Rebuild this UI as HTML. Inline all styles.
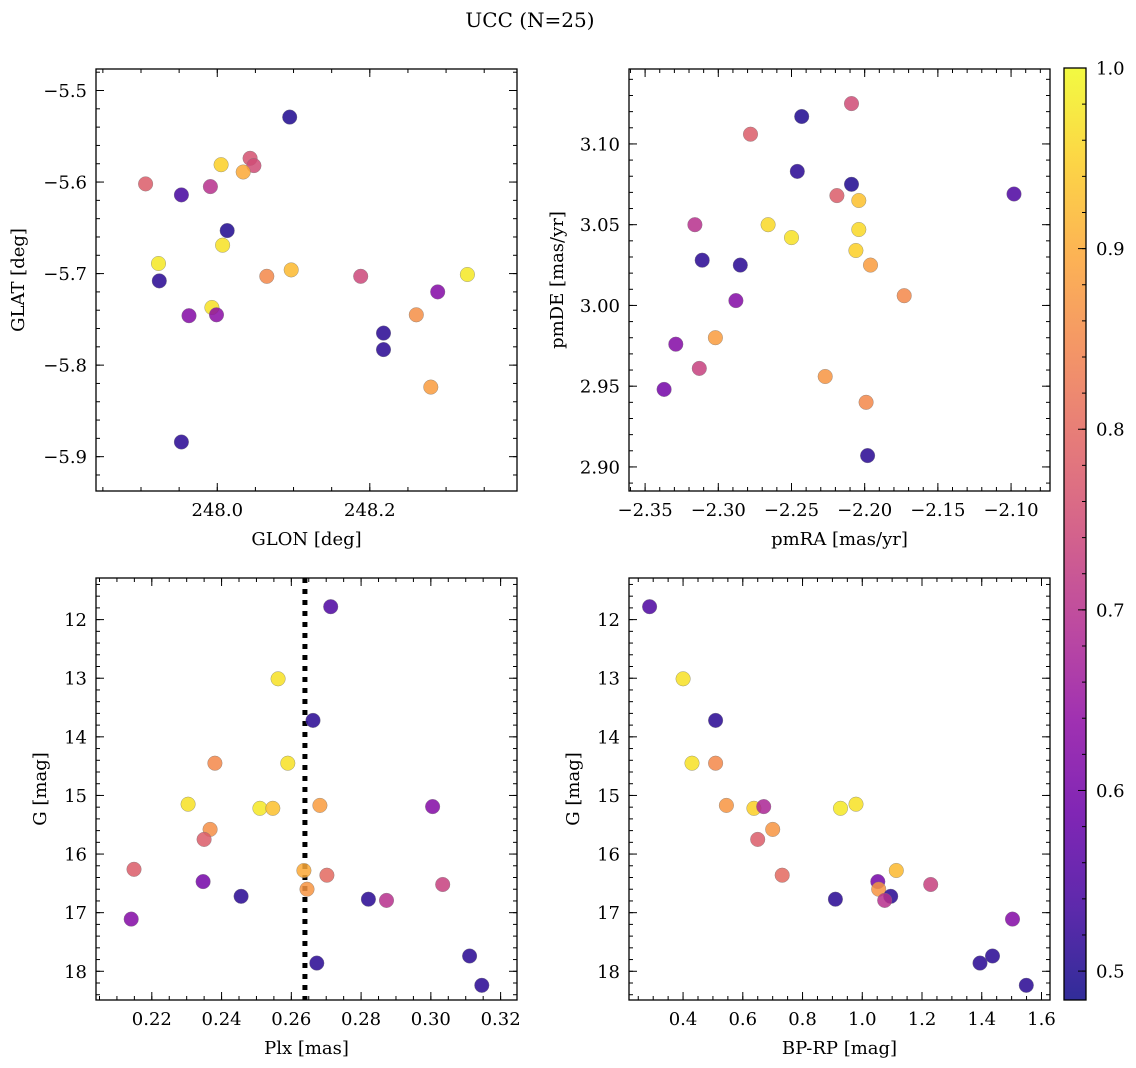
<!DOCTYPE html>
<html><head><meta charset="utf-8">
<style>
html,body{margin:0;padding:0;background:#fff;}
svg{display:block;font-family:"DejaVu Serif","Liberation Serif",serif;}
</style></head>
<body>
<svg id="fig" width="1136" height="1068" viewBox="0 0 1136 1068" xmlns="http://www.w3.org/2000/svg">
<text x="530" y="27" font-size="20" text-anchor="middle">UCC (N=25)</text>
</svg>
<script>
// ---- data ----
const tlGlon=[247.906,247.953,247.991,248.005,248.043,248.048,248.034,248.095,248.013,248.007,247.923,247.924,248.065,248.097,248.188,248.328,247.993,247.963,247.999,248.289,248.261,248.218,248.218,248.280,247.953];
const tlGlat=[-5.602,-5.614,-5.605,-5.581,-5.574,-5.582,-5.589,-5.529,-5.653,-5.669,-5.689,-5.708,-5.703,-5.696,-5.703,-5.701,-5.737,-5.746,-5.745,-5.720,-5.745,-5.765,-5.783,-5.824,-5.884];
const tlProb=[0.78,0.54,0.70,0.95,0.76,0.75,0.90,0.50,0.50,0.97,0.98,0.51,0.85,0.92,0.74,0.98,0.97,0.62,0.63,0.62,0.86,0.51,0.51,0.88,0.51];

const trPmra=[-2.209,-2.243,-2.278,-2.246,-2.209,-2.219,-2.204,-2.098,-2.316,-2.266,-2.204,-2.250,-2.206,-2.196,-2.311,-2.285,-2.173,-2.288,-2.302,-2.329,-2.313,-2.337,-2.227,-2.199,-2.198];
const trPmde=[3.125,3.117,3.106,3.083,3.075,3.068,3.065,3.069,3.050,3.050,3.047,3.042,3.034,3.025,3.028,3.025,3.006,3.003,2.980,2.976,2.961,2.948,2.956,2.940,2.907];
const trProb=[0.75,0.50,0.78,0.51,0.50,0.78,0.93,0.55,0.70,0.96,0.96,0.97,0.95,0.88,0.51,0.51,0.85,0.62,0.88,0.62,0.73,0.60,0.87,0.85,0.51];

const blPlx=[0.2713,0.2562,0.2662,0.2381,0.2590,0.2304,0.2510,0.2547,0.2682,0.3005,0.2367,0.2350,0.2149,0.2636,0.2702,0.2645,0.2347,0.3034,0.2456,0.2821,0.2873,0.2141,0.2673,0.3111,0.3146];
const blG=[11.78,13.01,13.72,14.45,14.45,15.15,15.22,15.22,15.17,15.19,15.58,15.75,16.26,16.28,16.36,16.60,16.47,16.52,16.72,16.77,16.79,17.11,17.86,17.74,18.24];
const blProb=[0.55,0.97,0.51,0.85,0.97,0.97,0.98,0.93,0.88,0.62,0.86,0.78,0.78,0.90,0.80,0.87,0.60,0.73,0.51,0.51,0.70,0.62,0.51,0.51,0.51];
const plxLine=[0.2639];

const brBprp=[0.288,0.400,0.509,0.430,0.509,0.545,0.637,0.670,0.927,0.979,0.700,0.650,0.732,1.114,1.052,1.055,1.229,1.095,1.075,0.910,1.503,1.394,1.436,1.549];
const brG=[11.78,13.01,13.72,14.45,14.45,15.17,15.22,15.19,15.22,15.15,15.58,15.75,16.36,16.28,16.47,16.60,16.52,16.72,16.79,16.77,17.11,17.86,17.74,18.24];
const brProb=[0.55,0.97,0.51,0.97,0.85,0.87,0.95,0.68,0.98,0.97,0.87,0.78,0.80,0.92,0.60,0.87,0.73,0.51,0.70,0.51,0.62,0.51,0.51,0.51];

const tlXTicks=["248.0","248.2"], tlYTicks=["−5.5","−5.6","−5.7","−5.8","−5.9"];
const trXTicks=["−2.35","−2.30","−2.25","−2.20","−2.15","−2.10"], trYTicks=["3.10","3.05","3.00","2.95","2.90"];
const blXTicks=["0.22","0.24","0.26","0.28","0.30","0.32"], gTicks=["12","13","14","15","16","17","18"];
const brXTicks=["0.4","0.6","0.8","1.0","1.2","1.4","1.6"];
const cbTicks=["0.5","0.6","0.7","0.8","0.9","1.0"];

// ---- helpers ----
const NS="http://www.w3.org/2000/svg";
const svg=document.getElementById('fig');
function mk(tag,attrs,parent){const e=document.createElementNS(NS,tag);for(const k in attrs)e.setAttribute(k,attrs[k]);(parent||svg).appendChild(e);return e;}
const plasma=[[13,8,135],[65,4,157],[106,0,168],[143,13,164],[177,42,144],[204,71,120],[225,100,98],[242,132,75],[252,166,54],[252,206,37],[240,249,33]];
const CMIN=0.484,CMAX=1.0;
function cmap(v){let t=(v-CMIN)/(CMAX-CMIN);t=Math.max(0,Math.min(1,t));const f=t*10;const i=Math.min(9,Math.floor(f));const r=f-i;const a=plasma[i],b=plasma[i+1];return 'rgb('+a.map((c,k)=>Math.round(c+(b[k]-c)*r)).join(',')+')';}

function panel(name,box,xd,yd,xTicks,yTicks,xMinor,yMinor,xlabel,ylabel,ylOff,xs,ys,cs,extra){
  const [L,T,R,B]=box;
  const g=mk('g',{});
  
  
  const sx=v=>L+(v-xd[0])/(xd[1]-xd[0])*(R-L);
  const sy=v=>T+(v-yd[0])/(yd[1]-yd[0])*(B-T);
  if(extra) extra(g,sx,sy);
  for(let i=0;i<xs.length;i++){
    const c=mk('circle',{cx:sx(xs[i]).toFixed(1),cy:sy(ys[i]).toFixed(1),r:7.3,fill:cmap(cs[i]),'fill-opacity':0.85,stroke:'#777','stroke-width':0.5,'stroke-opacity':0.7},g);
    
    
  }
  const fr=mk('rect',{x:L,y:T,width:R-L,height:B-T,fill:'none',stroke:'#000','stroke-width':1.3},g);
  
  
  const tg=mk('g',{stroke:'#000','stroke-width':1},g);
  const xlo=Math.min(xd[0],xd[1]),xhi=Math.max(xd[0],xd[1]),ylo=Math.min(yd[0],yd[1]),yhi=Math.max(yd[0],yd[1]);
  for(let k=Math.ceil(xlo/xMinor-1e-6);k*xMinor<=xhi+1e-9;k++){const v=k*xMinor,x=sx(v);
    mk('line',{x1:x,x2:x,y1:B,y2:B-4},tg);mk('line',{x1:x,x2:x,y1:T,y2:T+4},tg);}
  for(let k=Math.ceil(ylo/yMinor-1e-6);k*yMinor<=yhi+1e-9;k++){const v=k*yMinor,y=sy(v);
    mk('line',{x1:L,x2:L+4,y1:y,y2:y},tg);mk('line',{x1:R,x2:R-4,y1:y,y2:y},tg);}
  xTicks.forEach(s=>{const v=parseFloat(s.replace('−','-'));const x=sx(v);
    mk('line',{x1:x,x2:x,y1:B,y2:B-8},tg);mk('line',{x1:x,x2:x,y1:T,y2:T+8},tg);
    const t=mk('text',{x:x,y:B+25,'font-size':18,'text-anchor':'middle'},g);t.textContent=s;
    
    });
  yTicks.forEach(s=>{const v=parseFloat(s.replace('−','-'));const y=sy(v);
    mk('line',{x1:L,x2:L+8,y1:y,y2:y},tg);mk('line',{x1:R,x2:R-8,y1:y,y2:y},tg);
    const t=mk('text',{x:L-9,y:y+6.5,'font-size':18,'text-anchor':'end'},g);t.textContent=s;
    
    });
  const xl=mk('text',{x:(L+R)/2,y:B+54,'font-size':18,'text-anchor':'middle'},g);xl.textContent=xlabel;
  
  
  const lx=L-ylOff;
  const yl=mk('text',{x:lx,y:(T+B)/2,'font-size':18,'text-anchor':'middle',transform:'rotate(-90 '+lx+' '+(T+B)/2+')'},g);yl.textContent=ylabel;
  
  
}

panel('glon-glat-panel',[96,69,517,491],[247.841,248.393],[-5.4765,-5.9375],tlXTicks,tlYTicks,0.05,0.02,'GLON [deg]','GLAT [deg]',72,tlGlon,tlGlat,tlProb);
panel('pm-panel',[629,69,1050,491],[-2.361,-2.0734],[3.1464,2.8851],trXTicks,trYTicks,0.01,0.01,'pmRA [mas/yr]','pmDE [mas/yr]',66,trPmra,trPmde,trProb);
panel('plx-g-panel',[96,578,517,1000],[0.204,0.3247],[11.29,18.49],blXTicks,gTicks,0.005,0.2,'Plx [mas]','G [mag]',50,blPlx,blG,blProb,(g,sx,sy)=>{
  plxLine.forEach(v=>{const l=mk('line',{x1:sx(v),x2:sx(v),y1:578,y2:1000,stroke:'#000','stroke-width':5,'stroke-dasharray':'5 6'},g);
  
  });
});
panel('cmd-panel',[629,578,1050,1000],[0.219,1.6285],[11.29,18.49],brXTicks,gTicks,0.05,0.2,'BP-RP [mag]','G [mag]',50,brBprp,brG,brProb);

// colorbar
(function(){
  const L=1064,R=1086,T=68,B=1000;
  const g=mk('g',{});
  
  
  const defs=mk('defs',{},g);
  const lg=mk('linearGradient',{id:'cbg',x1:0,y1:1,x2:0,y2:0},defs);
  for(let i=0;i<=20;i++){const v=CMIN+(CMAX-CMIN)*i/20;mk('stop',{offset:(i/20),'stop-color':cmap(v)},lg);}
  const sy=v=>B-(v-CMIN)/(CMAX-CMIN)*(B-T);
  mk('rect',{x:L,y:T,width:R-L,height:B-T,fill:'url(#cbg)','fill-opacity':0.85,stroke:'#000','stroke-width':1.3},g);
  for(let k=25;k<=50;k++){const y=sy(k*0.02);mk('line',{x1:R,x2:R-4,y1:y,y2:y,stroke:'#000'},g);}
  cbTicks.forEach(s=>{const y=sy(parseFloat(s));mk('line',{x1:R,x2:R-8,y1:y,y2:y,stroke:'#000'},g);
    const t=mk('text',{x:1096,y:y+6.5,'font-size':18},g);t.textContent=s;
    
    });
})();
</script>
</body></html>
